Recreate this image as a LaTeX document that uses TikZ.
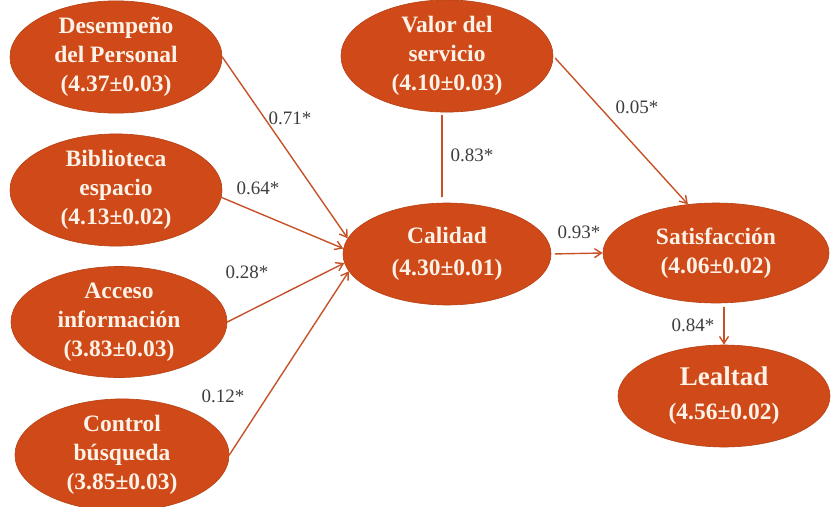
\documentclass[tikz,border=0pt]{standalone}
\usepackage{fontspec}
\setmainfont{Liberation Serif}
\usetikzlibrary{shapes.geometric,arrows.meta}
\definecolor{rust}{RGB}{207,74,24}
\definecolor{rustline}{RGB}{198,82,40}
\definecolor{cream}{RGB}{252,242,232}
\definecolor{coefgray}{RGB}{62,62,62}
\begin{document}
\begin{tikzpicture}[x=1pt,y=-1pt,line join=round,line cap=round,
  >={Straight Barb[length=7pt,width=9pt]},
  var/.style={ellipse,fill=rust,draw=rust!88!black,line width=0.6pt,text=cream,
    inner sep=0pt,minimum width=212pt,minimum height=102pt,align=center,
    font=\fontsize{23.5}{29}\selectfont\bfseries},
  link/.style={draw=rustline,line width=1.4pt},
  coef/.style={text=coefgray,font=\fontsize{19}{21}\selectfont}]
\useasboundingbox (0,0) rectangle (832,506);
% variables
\node[var] (des) at (116,57) {Desempeño\\del Personal\\(4.37±0.03)};
\node[var] (bib) at (116,190) {Biblioteca\\espacio\\(4.13±0.02)};
\node[var,minimum width=216pt] (acc) at (119,322) {Acceso\\información\\(3.83±0.03)};
\node[var,minimum width=214pt] (con) at (122,455) {Control\\búsqueda\\(3.85±0.03)};
\node[var] (val) at (447,56) {Valor del\\servicio\\(4.10±0.03)};
\node[var,minimum width=208pt] (cal) at (447,254) {Calidad\\[3pt](4.30±0.01)};
\node[var,minimum width=226pt,minimum height=100pt] (sat) at (716,253) {Satisfacción\\(4.06±0.02)};
\node[var] (lea) at (724,396) {{\fontsize{27}{30}\selectfont Lealtad}\\[5pt](4.56±0.02)};
% paths
\draw[link,->] (des.east) -- (cal.171);
\draw[link,->] (bib.-4) -- (cal.177);
\draw[link,->] (acc.east) -- (cal.185);
\draw[link,->] (con.east) -- (cal.190);
\draw[link,shorten <=6pt,shorten >=3pt] ([xshift=-5pt]cal.north) -- ([xshift=-5pt]val.south);
\draw[link,->,shorten <=3pt] (val.east) -- (sat.120);
\draw[link,->,shorten <=4pt] (cal.east) -- (sat.west);
\draw[link,->,shorten <=4pt] (sat.south -| lea.north) -- (lea.north);
% coefficients
\foreach \n/\x/\y/\l in {k1/290/118/0.71*, k2/258/188/0.64*, k3/247/272/0.28*,
  k4/223/396/0.12*, k5/472/155/0.83*, k6/637/107/0.05*, k7/579/232/0.93*, k8/693/325/0.84*}
  {\node[coef] (\n) at (\x,\y) {\l};}
\end{tikzpicture}
\end{document}
